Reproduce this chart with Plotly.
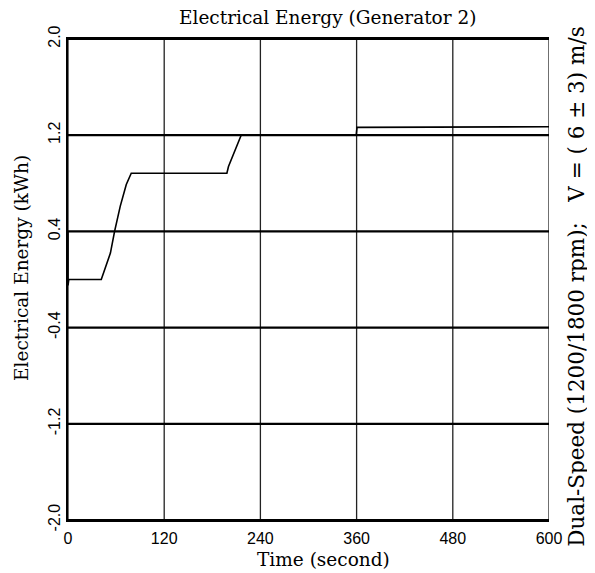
import plotly.graph_objects as go

# Data
time_s = [0, 0, 1, 41.5, 52.9, 58.1, 65.2, 72.7, 78.9, 198.2, 200.2, 214.8, 216, 359.5, 360.5, 600]
energy_kwh = [0.40, -0.05, 0.0, 0.0, 0.22, 0.40, 0.61, 0.79, 0.884, 0.884, 0.94, 1.186, 1.20, 1.20, 1.265, 1.27]

x_ticks = [0, 120, 240, 360, 480, 600]
x_tick_labels = ["0", "120", "240", "360", "480", "600"]
y_ticks = [-2.0, -1.2, -0.4, 0.4, 1.2, 2.0]
y_tick_labels = ["-2.0", "-1.2", "-0.4", "0.4", "1.2", "2.0"]

title_text = "Electrical Energy (Generator 2)"
x_title = "Time (second)"
y_title = "Electrical Energy (kWh)"
right_text = "Dual-Speed (1200/1800 rpm);   V = ( 6 ± 3) m/s"

serif = "DejaVu Serif, Liberation Serif, serif"
sans = "Liberation Sans, Arial, sans-serif"

fig = go.Figure()

# vertical grid lines (thinner)
for xv in x_ticks:
    fig.add_shape(type="line", xref="x", yref="paper", x0=xv, x1=xv, y0=0, y1=1,
                  line=dict(color="#222", width=1.3), layer="below")
# horizontal grid lines (thick)
for yv in y_ticks:
    fig.add_shape(type="line", xref="paper", yref="y", x0=0, x1=1, y0=yv, y1=yv,
                  line=dict(color="#000", width=2.2), layer="below")

fig.add_trace(go.Scatter(x=time_s, y=energy_kwh, mode="lines",
                         line=dict(color="black", width=1.6), showlegend=False))

# The page body adds an 8px offset; figure is sized so the plot lands where the reference has it
fig.update_layout(
    width=587, height=565,
    margin=dict(l=60, r=46, t=31, b=53),
    paper_bgcolor="white", plot_bgcolor="white",
    xaxis=dict(range=[0, 600], tickvals=x_ticks, ticktext=x_tick_labels,
               showgrid=False, zeroline=False, ticks="",
               showline=True, mirror=True, linecolor="black", linewidth=2.2,
               ticklabelstandoff=3,
               tickfont=dict(family=sans, size=16, color="black")),
    yaxis=dict(range=[-2.0, 2.0], tickvals=y_ticks, ticktext=y_tick_labels,
               showgrid=False, zeroline=False, ticks="",
               showline=True, mirror=False, linecolor="black", linewidth=2,
               tickangle=-90, ticklabelstandoff=0,
               tickfont=dict(family=sans, size=16, color="black")),
    annotations=[
        dict(text=title_text, xref="paper", yref="paper", x=0.539, y=1, yshift=22,
             xanchor="center", yanchor="middle", showarrow=False,
             font=dict(family=serif, size=18.5, color="black")),
        dict(text=x_title, xref="paper", yref="paper", x=0.531, y=0, yshift=-39,
             xanchor="center", yanchor="middle", showarrow=False,
             font=dict(family=serif, size=18.5, color="black")),
        dict(text=y_title, xref="paper", yref="paper", x=0, xshift=-46, y=0.524,
             xanchor="center", yanchor="middle", showarrow=False, textangle=-90,
             font=dict(family=serif, size=18.5, color="black")),
        dict(text=right_text, xref="paper", yref="paper", x=1, xshift=28, y=0.485,
             xanchor="center", yanchor="middle", showarrow=False, textangle=-90,
             font=dict(family=serif, size=21.5, color="black")),
    ],
)

fig.write_html("out.html")
